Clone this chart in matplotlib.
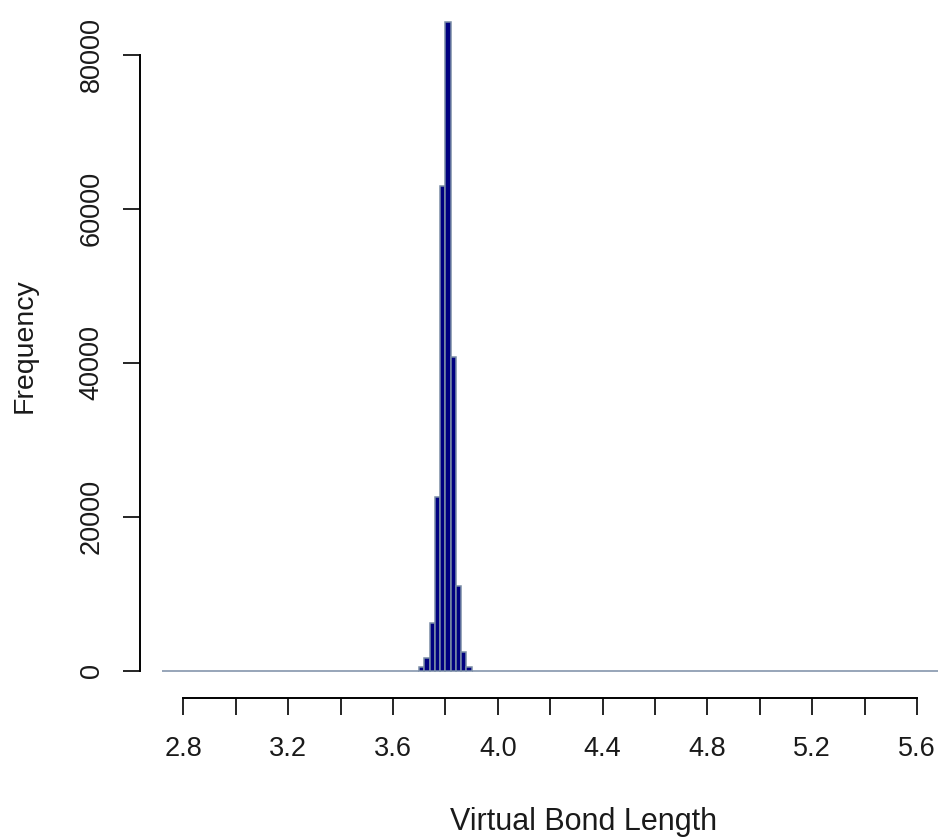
import numpy as np
import matplotlib
matplotlib.use("Agg")
import matplotlib.pyplot as plt

plt.rcParams['font.family'] = ['Liberation Sans', 'DejaVu Sans']

# histogram of virtual bond lengths, 0.02 wide bins
bin_start = 2.72
bin_stop = 5.80
bin_width = 0.02
peak_lefts = [3.70, 3.72, 3.74, 3.76, 3.78, 3.80, 3.82, 3.84, 3.86, 3.88]
peak_counts = [500, 1660, 6210, 22510, 63010, 84290, 40710, 11020, 2370, 500]

x_ticks = [2.8, 3.0, 3.2, 3.4, 3.6, 3.8, 4.0, 4.2, 4.4, 4.6, 4.8, 5.0, 5.2, 5.4, 5.6]
x_labels = ['2.8', '', '3.2', '', '3.6', '', '4.0', '', '4.4', '', '4.8', '', '5.2', '', '5.6']
y_ticks = [0, 20000, 40000, 60000, 80000]

edges = np.round(np.arange(bin_start, bin_stop + bin_width / 2, bin_width), 2)
lefts = edges[:-1]
counts = np.zeros(len(lefts))
for l, c in zip(peak_lefts, peak_counts):
    counts[np.argmin(np.abs(lefts - l))] = c

W, H = 938, 838
fig = plt.figure(figsize=(W / 100, H / 100), dpi=100)
ax = fig.add_axes([140 / W, (H - 697.5) / H, 1 - 140 / W, 697.5 / H])

ax.bar(lefts, counts, width=bin_width, align='edge',
       color='#000080', edgecolor='#7a8da6', linewidth=1.1)

ax.set_xlim(2.6347, 5.6805)
ax.set_ylim(-3509, 87146)

for s in ['top', 'right']:
    ax.spines[s].set_visible(False)
ax.spines['left'].set_bounds(0, 80000)
ax.spines['bottom'].set_bounds(2.8, 5.6)
ax.spines['left'].set_linewidth(1.4)
ax.spines['bottom'].set_linewidth(1.4)

ax.set_xticks(x_ticks)
ax.set_xticklabels(x_labels)
ax.set_yticks(y_ticks)
ax.set_yticklabels([str(v) for v in y_ticks], rotation=90, va='center')
ax.tick_params(axis='both', length=12.5, width=1.2, labelsize=19.5, labelcolor='#1a1a1a')
ax.tick_params(axis='x', pad=15)
ax.tick_params(axis='y', pad=13)

fig.text(584 / W, 1 - 822 / H, 'Virtual Bond Length', ha='center', va='center',
         fontsize=22, color='#1a1a1a')
fig.text(25 / W, 1 - 346 / H, 'Frequency', ha='center', va='center', rotation=90,
         fontsize=20.5, color='#1a1a1a')

fig.savefig('out.png', dpi=100)
